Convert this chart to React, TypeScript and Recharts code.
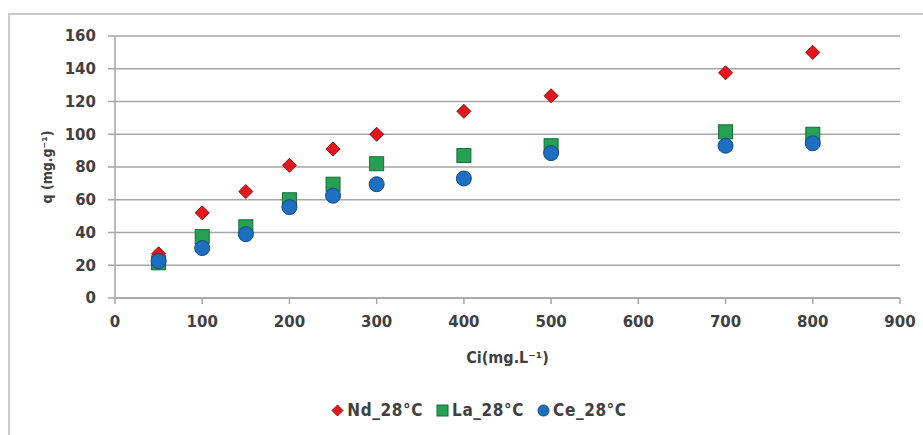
import React from "react";
import { CartesianGrid, Scatter, ScatterChart, XAxis, YAxis } from "recharts";

// Initial concentration (mg/L) and uptake q (mg/g) per element at 28°C
const ciValues = [50, 100, 150, 200, 250, 300, 400, 500, 700, 800];
const ndValues = [27, 52, 65, 81, 91, 100, 114, 123.5, 137.5, 150];
const laValues = [21.5, 37.5, 43.5, 60, 69.5, 82, 87, 93, 101.5, 100];
const ceValues = [22.5, 30.5, 39, 55.5, 62.5, 69.5, 73, 88.5, 93, 94.5];
const xTicks = [0, 100, 200, 300, 400, 500, 600, 700, 800, 900];
const yTicks = [0, 20, 40, 60, 80, 100, 120, 140, 160];

const toPoints = (values: number[]) =>
  ciValues.map((ci, i) => ({ ci, q: values[i] }));

const ndData = toPoints(ndValues);
const laData = toPoints(laValues);
const ceData = toPoints(ceValues);

const axisGray = "#a6a6a6";
const textGray = "#404040";
const condensed = "DejaVu Sans Condensed, DejaVu Sans";
const tickFont = {
  fontFamily: "DejaVu Sans",
  fontWeight: 700,
  fontSize: 15,
  fill: textGray,
};

const colors = {
  nd: { fill: "#e2161b", stroke: "#9c0d10" },
  la: { fill: "#24a152", stroke: "#1a6b38" },
  ce: { fill: "#1d6fc2", stroke: "#17477e" },
};

function Diamond({ cx, cy, s = 7 }: any) {
  return (
    <path
      d={`M${cx},${cy - s} L${cx + s},${cy} L${cx},${cy + s} L${cx - s},${cy} Z`}
      fill={colors.nd.fill}
      stroke={colors.nd.stroke}
      strokeWidth={1}
    />
  );
}

function Square({ cx, cy, s = 7 }: any) {
  return (
    <rect
      x={cx - s}
      y={cy - s}
      width={s * 2}
      height={s * 2}
      fill={colors.la.fill}
      stroke={colors.la.stroke}
      strokeWidth={1}
    />
  );
}

function Circle({ cx, cy, s = 7 }: any) {
  return (
    <circle
      cx={cx}
      cy={cy}
      r={s}
      fill={colors.ce.fill}
      stroke={colors.ce.stroke}
      strokeWidth={1}
    />
  );
}

const legendItems = [
  { name: "Nd_28°C", Icon: Diamond },
  { name: "La_28°C", Icon: Square },
  { name: "Ce_28°C", Icon: Circle },
];

function LegendRow() {
  return (
    <div
      style={{
        position: "absolute",
        left: 0,
        width: 958,
        top: 400,
        display: "flex",
        justifyContent: "center",
        gap: 13,
        fontFamily: condensed,
        fontWeight: 700,
        fontSize: 17,
        letterSpacing: 0.6,
        color: textGray,
      }}
    >
      {legendItems.map(({ name, Icon }) => (
        <span key={name} style={{ display: "flex", alignItems: "center", gap: 3 }}>
          <svg width={13} height={13}>
            <Icon cx={6.5} cy={6.5} s={5.5} />
          </svg>
          {name}
        </span>
      ))}
    </div>
  );
}

export default function App() {
  return (
    <div
      style={{
        position: "absolute",
        left: 0,
        top: 0,
        width: 923,
        height: 435,
        background: "#fff",
        overflow: "hidden",
      }}
    >
      <div
        style={{
          position: "absolute",
          left: 8,
          top: 13,
          width: 940,
          height: 460,
          borderLeft: "2px solid #c9c9c9",
          borderTop: "2px solid #c9c9c9",
        }}
      />
      <ScatterChart
        width={923}
        height={435}
        margin={{ top: 36, right: 23, bottom: 0, left: 0 }}
        style={{ position: "absolute", left: 0, top: 0 }}
      >
        <CartesianGrid vertical={false} stroke={axisGray} strokeWidth={1.5} />
        <XAxis
          type="number"
          dataKey="ci"
          domain={[0, 900]}
          ticks={xTicks}
          interval={0}
          height={137}
          tickSize={6}
          tickMargin={12}
          stroke={axisGray}
          strokeWidth={1.5}
          tick={tickFont}
          label={{
            value: "Ci(mg.L⁻¹)",
            position: "insideTop",
            offset: 54,
            style: {
              fontFamily: condensed,
              fontWeight: 700,
              fontSize: 16,
              fill: textGray,
            },
          }}
        />
        <YAxis
          type="number"
          dataKey="q"
          domain={[0, 160]}
          ticks={yTicks}
          interval={0}
          width={115}
          tickSize={7}
          tickMargin={12}
          stroke={axisGray}
          strokeWidth={1.5}
          tick={tickFont}
          label={{
            value: "q (mg.g⁻¹)",
            angle: -90,
            position: "insideLeft",
            offset: 47,
            style: {
              textAnchor: "middle",
              fontFamily: condensed,
              fontWeight: 700,
              fontSize: 14,
              fill: textGray,
            },
          }}
        />
        <Scatter
          name="Nd_28°C"
          data={ndData}
          shape={(p: any) => <Diamond cx={p.cx} cy={p.cy} s={7} />}
          isAnimationActive={false}
        />
        <Scatter
          name="La_28°C"
          data={laData}
          shape={(p: any) => <Square cx={p.cx} cy={p.cy} s={7} />}
          isAnimationActive={false}
        />
        <Scatter
          name="Ce_28°C"
          data={ceData}
          shape={(p: any) => <Circle cx={p.cx} cy={p.cy} s={7.5} />}
          isAnimationActive={false}
        />
      </ScatterChart>
      <LegendRow />
    </div>
  );
}
